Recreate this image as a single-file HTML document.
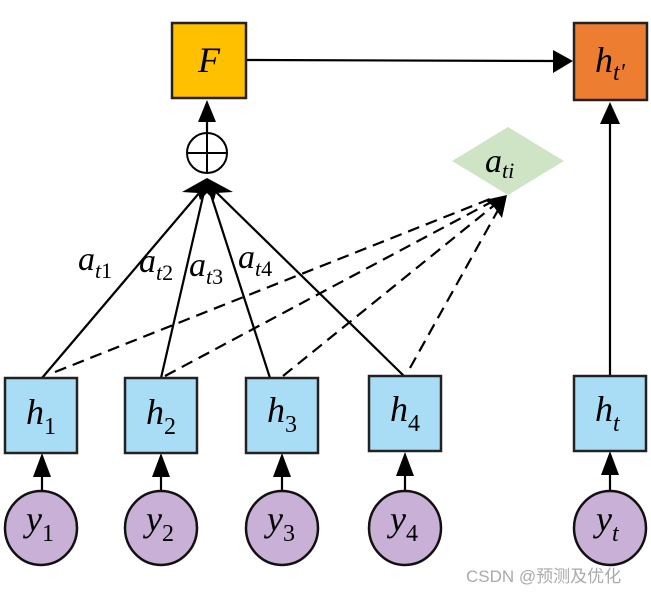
<!DOCTYPE html>
<html><head><meta charset="utf-8"><style>body{margin:0;background:#fff}svg{display:block}</style></head><body>
<svg width="651" height="594" viewBox="0 0 651 594" xmlns="http://www.w3.org/2000/svg" font-family="Liberation Serif, serif" font-style="italic">
<g stroke="#000" stroke-width="2.2" fill="none">
<line x1="42" y1="378" x2="200" y2="192"/>
<line x1="161" y1="378" x2="204" y2="192"/>
<line x1="270" y1="378" x2="210" y2="192"/>
<line x1="404" y1="376" x2="216" y2="192"/>
<g stroke-dasharray="12,7">
<line x1="55" y1="372" x2="495" y2="197"/>
<line x1="165" y1="376" x2="495" y2="200"/>
<line x1="283" y1="376" x2="497" y2="203"/>
<line x1="410" y1="368" x2="502" y2="203"/>
</g>
<line x1="246" y1="60" x2="555" y2="61"/>
<line x1="207" y1="133" x2="207" y2="118"/>
<line x1="610" y1="378" x2="610" y2="122"/>
<line x1="42" y1="492" x2="42" y2="470"/>
<line x1="161" y1="492" x2="161" y2="470"/>
<line x1="282" y1="492" x2="282" y2="470"/>
<line x1="405" y1="492" x2="405" y2="470"/>
<line x1="610" y1="492" x2="610" y2="470"/>
</g>
<g fill="#000">
<polygon points="573,61 553,50 553,73"/>
<polygon points="207,100 198,122 216,122"/>
<polygon points="610,102 600,124 620,124"/>
<polygon points="207,178 182,192 198,193 200,200 207,193 214,200 216,193 233,192"/>
<polygon points="507,195 485,200 494,207 502,218"/>
<polygon points="42,453 33,477 51,477"/>
<polygon points="161,453 152,477 170,477"/>
<polygon points="282,453 273,477 291,477"/>
<polygon points="405,452 396,476 414,476"/>
<polygon points="610,451 601,475 619,475"/>
</g>
<rect x="172" y="23" width="74" height="75" fill="#FFC000" stroke="#222" stroke-width="2.5"/>
<rect x="574" y="23" width="73" height="77" fill="#ED7D31" stroke="#222" stroke-width="2.5"/>
<ellipse cx="207" cy="153" rx="20" ry="20" fill="#fff" stroke="#000" stroke-width="2"/>
<line x1="187" y1="153" x2="227" y2="153" stroke="#000" stroke-width="2"/>
<line x1="207" y1="133" x2="207" y2="173" stroke="#000" stroke-width="2"/>
<polygon points="508,127 564,161 508,195 452,161" fill="#CFE4C4"/>
<g fill="#A9DDF5" stroke="#222" stroke-width="2.5">
<rect x="5" y="378" width="72" height="75"/>
<rect x="125" y="378" width="72" height="75"/>
<rect x="246" y="378" width="72" height="75"/>
<rect x="369" y="376" width="72" height="75"/>
<rect x="574" y="376" width="72" height="75"/>
</g>
<g fill="#C8B0D6" stroke="#111" stroke-width="2.5">
<ellipse cx="41" cy="528" rx="36" ry="37"/>
<ellipse cx="161" cy="528" rx="36" ry="37"/>
<ellipse cx="282" cy="528" rx="36" ry="37"/>
<ellipse cx="405" cy="528" rx="36" ry="37"/>
<ellipse cx="610" cy="528" rx="36" ry="37"/>
</g>
<g fill="#000" font-size="36">
<text x="198" y="72">F</text>
<text x="595" y="72">h<tspan font-size="24" dy="8">t'</tspan></text>
<text x="485" y="172" font-size="34">a<tspan font-size="22" dy="6">ti</tspan></text>
<text x="78" y="270" font-size="34">a<tspan font-size="22" dy="8">t</tspan><tspan font-size="22" font-style="normal">1</tspan></text>
<text x="139" y="272" font-size="34">a<tspan font-size="22" dy="8">t</tspan><tspan font-size="22" font-style="normal">2</tspan></text>
<text x="189" y="276" font-size="34">a<tspan font-size="22" dy="8">t</tspan><tspan font-size="22" font-style="normal">3</tspan></text>
<text x="238" y="268" font-size="34">a<tspan font-size="22" dy="8">t</tspan><tspan font-size="22" font-style="normal">4</tspan></text>
<text x="26" y="424">h<tspan font-size="24" dy="10" font-style="normal">1</tspan></text>
<text x="146" y="424">h<tspan font-size="24" dy="10" font-style="normal">2</tspan></text>
<text x="267" y="422">h<tspan font-size="24" dy="10" font-style="normal">3</tspan></text>
<text x="390" y="421">h<tspan font-size="24" dy="10" font-style="normal">4</tspan></text>
<text x="595" y="421">h<tspan font-size="24" dy="10">t</tspan></text>
<text x="26" y="531">y<tspan font-size="24" dy="10" font-style="normal">1</tspan></text>
<text x="146" y="531">y<tspan font-size="24" dy="10" font-style="normal">2</tspan></text>
<text x="267" y="531">y<tspan font-size="24" dy="10" font-style="normal">3</tspan></text>
<text x="390" y="531">y<tspan font-size="24" dy="10" font-style="normal">4</tspan></text>
<text x="596" y="531">y<tspan font-size="24" dy="10">t</tspan></text>
</g>
<text x="466" y="582" font-size="17" font-style="normal" fill="#aaa" font-family="Liberation Sans, Noto Sans CJK SC, sans-serif">CSDN @预测及优化</text>
</svg>
</body></html>
